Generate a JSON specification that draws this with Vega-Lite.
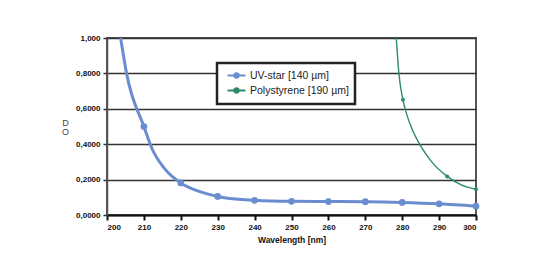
{
  "$schema": "https://vega.github.io/schema/vega-lite/v6.json",
  "autosize": "none",
  "width": 369,
  "height": 177,
  "padding": {"left": 107, "top": 38, "right": 60, "bottom": 42},
  "background": "white",
  "config": {
    "view": {"stroke": "#555", "strokeWidth": 2},
    "font": "Liberation Sans"
  },
  "data": {
    "values": [
      {"series": "UV-star [140 µm]", "wl": 203.7, "od": 1.0, "marker": false},
      {"series": "UV-star [140 µm]", "wl": 205.3, "od": 0.8, "marker": false},
      {"series": "UV-star [140 µm]", "wl": 210, "od": 0.5, "marker": true},
      {"series": "UV-star [140 µm]", "wl": 212.3, "od": 0.37, "marker": false},
      {"series": "UV-star [140 µm]", "wl": 215.5, "od": 0.265, "marker": false},
      {"series": "UV-star [140 µm]", "wl": 220, "od": 0.181, "marker": true},
      {"series": "UV-star [140 µm]", "wl": 225, "od": 0.133, "marker": false},
      {"series": "UV-star [140 µm]", "wl": 230, "od": 0.105, "marker": true},
      {"series": "UV-star [140 µm]", "wl": 240, "od": 0.083, "marker": true},
      {"series": "UV-star [140 µm]", "wl": 250, "od": 0.077, "marker": true},
      {"series": "UV-star [140 µm]", "wl": 260, "od": 0.076, "marker": true},
      {"series": "UV-star [140 µm]", "wl": 270, "od": 0.075, "marker": true},
      {"series": "UV-star [140 µm]", "wl": 280, "od": 0.071, "marker": true},
      {"series": "UV-star [140 µm]", "wl": 290, "od": 0.063, "marker": true},
      {"series": "UV-star [140 µm]", "wl": 300, "od": 0.05, "marker": true},
      {"series": "Polystyrene [190 µm]", "wl": 278.3, "od": 1.03, "marker": false},
      {"series": "Polystyrene [190 µm]", "wl": 279.1, "od": 0.8, "marker": false},
      {"series": "Polystyrene [190 µm]", "wl": 280.2, "od": 0.651, "marker": true},
      {"series": "Polystyrene [190 µm]", "wl": 281.2, "od": 0.57, "marker": false},
      {"series": "Polystyrene [190 µm]", "wl": 283, "od": 0.47, "marker": false},
      {"series": "Polystyrene [190 µm]", "wl": 285, "od": 0.39, "marker": false},
      {"series": "Polystyrene [190 µm]", "wl": 288, "od": 0.3, "marker": false},
      {"series": "Polystyrene [190 µm]", "wl": 292.2, "od": 0.218, "marker": true},
      {"series": "Polystyrene [190 µm]", "wl": 296, "od": 0.17, "marker": false},
      {"series": "Polystyrene [190 µm]", "wl": 300, "od": 0.145, "marker": true}
    ]
  },
  "encoding": {
    "x": {
      "field": "wl", "type": "quantitative",
      "scale": {"domain": [200, 300], "nice": false, "zero": false},
      "axis": {
        "values": [200, 210, 220, 230, 240, 250, 260, 270, 280, 290, 300],
        "title": "Wavelength [nm]",
        "titleFontSize": 8.5, "titleFontWeight": "bold", "titleColor": "#111", "titlePadding": 4,
        "labelFontSize": 8, "labelFontWeight": "bold", "labelColor": "#111", "labelPadding": 3,
        "grid": false, "domainColor": "#111", "domainWidth": 2,
        "tickColor": "#111", "tickWidth": 2, "tickSize": 5
      }
    },
    "y": {
      "field": "od", "type": "quantitative",
      "scale": {"domain": [0, 1], "nice": false},
      "axis": {
        "values": [0, 0.2, 0.4, 0.6, 0.8, 1.0],
        "labelExpr": "datum.value == 1 ? '1,000' : replace(format(datum.value, '.4f'), '.', ',')",
        "labelFontSize": 8, "labelFontWeight": "bold", "labelColor": "#111", "labelPadding": 3,
        "title": ["D", "O"], "titleAngle": 0, "titleX": -42, "titleY": 84,
        "titleAlign": "center", "titleBaseline": "middle", "titleLineHeight": 9,
        "titleFontSize": 9, "titleFontWeight": "normal", "titleColor": "#444",
        "grid": true, "gridColor": "#333", "gridWidth": 1.5,
        "domainColor": "#555", "domainWidth": 1.5,
        "tickColor": "#333", "tickWidth": 1.5, "tickSize": 4
      }
    },
    "color": {
      "field": "series", "type": "nominal",
      "scale": {"domain": ["UV-star [140 µm]", "Polystyrene [190 µm]"], "range": ["#6a8dd0", "#2e8a6c"]},
      "legend": {
        "title": null, "orient": "none", "legendX": 110, "legendY": 25,
        "fillColor": "white", "strokeColor": "#222",
        "padding": 6, "rowPadding": 0, "symbolOffset": 7,
        "labelFontSize": 10.5, "labelColor": "#222", "labelOffset": 7,
        "labelExpr": "datum.label + '\u00a0\u00a0\u00a0\u00a0\u00a0'",
        "symbolType": "M-1.8,0L1.8,0M-0.45,0A0.45,0.45,0,1,1,0.45,0A0.45,0.45,0,1,1,-0.45,0Z",
        "symbolSize": 100, "symbolStrokeWidth": 2.2,
        "encode": {
          "legend": {"update": {"strokeWidth": {"value": 2.5}}},
          "symbols": {"update": {
            "fill": {"scale": "color", "field": "value"},
            "stroke": {"scale": "color", "field": "value"},
            "opacity": {"value": 1}
          }}
        }
      }
    }
  },
  "layer": [
    {
      "transform": [{"filter": "datum.series == 'UV-star [140 µm]'"}],
      "mark": {"type": "line", "interpolate": "monotone", "clip": true, "strokeWidth": 3}
    },
    {
      "transform": [{"filter": "datum.series == 'Polystyrene [190 µm]'"}],
      "mark": {"type": "line", "interpolate": "monotone", "clip": true, "strokeWidth": 1.4}
    },
    {
      "transform": [{"filter": "datum.marker && datum.series == 'UV-star [140 µm]'"}],
      "mark": {"type": "point", "filled": true, "opacity": 1, "size": 45}
    },
    {
      "transform": [{"filter": "datum.marker && datum.series == 'Polystyrene [190 µm]'"}],
      "mark": {"type": "point", "filled": true, "opacity": 1, "size": 16}
    }
  ]
}
